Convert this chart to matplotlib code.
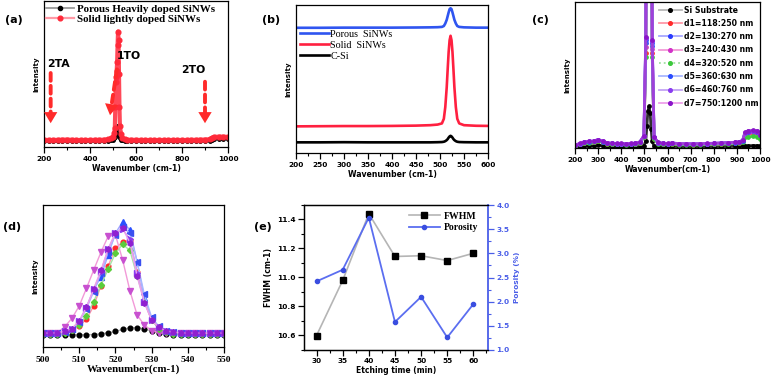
import matplotlib
matplotlib.use('Agg')
import matplotlib.pyplot as plt
from matplotlib.lines import Line2D
from matplotlib.ticker import MultipleLocator, NullLocator

# ---------------- data ----------------
# (a)
x_a = [200, 220, 240, 260, 280, 300, 320, 340, 360, 380, 400, 420, 440, 460, 480,
       490, 500, 505, 508, 510, 512, 514, 516, 518, 520, 522, 524, 526, 528, 530, 535, 540, 550, 560,
       580, 600, 620, 640, 660, 680, 700, 720, 740, 760, 780, 800, 820, 840, 860, 880, 900, 920,
       930, 940, 960, 980, 1000]
porous_heavy_a = [0.038, 0.038, 0.038, 0.039, 0.040, 0.041, 0.039, 0.038, 0.038, 0.038, 0.038, 0.038, 0.038, 0.039, 0.040,
                  0.042, 0.046, 0.055, 0.065, 0.080, 0.095, 0.110, 0.125, 0.135, 0.140, 0.138, 0.125, 0.100, 0.075, 0.058, 0.046, 0.042, 0.040, 0.039,
                  0.038, 0.038, 0.038, 0.038, 0.038, 0.038, 0.038, 0.038, 0.038, 0.038, 0.038, 0.038, 0.038, 0.038, 0.039, 0.039, 0.040, 0.041,
                  0.046, 0.050, 0.051, 0.051, 0.050]
solid_light_a = [0.046, 0.045, 0.045, 0.046, 0.047, 0.048, 0.046, 0.045, 0.045, 0.045, 0.045, 0.046, 0.046, 0.047, 0.050,
                 0.055, 0.065, 0.090, 0.130, 0.270, 0.440, 0.480, 0.520, 0.580, 0.700, 0.790, 0.730, 0.500, 0.270, 0.140, 0.085, 0.060, 0.050, 0.047,
                 0.046, 0.046, 0.045, 0.045, 0.045, 0.045, 0.045, 0.045, 0.045, 0.045, 0.045, 0.045, 0.045, 0.046, 0.046, 0.047, 0.048, 0.050,
                 0.060, 0.066, 0.068, 0.068, 0.066]
labels_a = ["Porous Heavily doped SiNWs", "Solid lightly doped SiNWs"]

# (b)
x_b = [200, 250, 300, 350, 400, 450, 480, 495, 504, 508, 511, 514, 516, 518, 520, 522, 524,
       526, 528, 530, 533, 536, 540, 550, 575, 600]
porous_b = [0.846, 0.846, 0.847, 0.847, 0.847, 0.848, 0.849, 0.850, 0.852, 0.858, 0.875, 0.900, 0.925,
            0.950, 0.972, 0.978, 0.972, 0.950, 0.925, 0.900, 0.875, 0.858, 0.852, 0.849, 0.847, 0.847]
solid_b = [0.180, 0.181, 0.182, 0.182, 0.183, 0.185, 0.188, 0.192, 0.200, 0.231, 0.310, 0.444, 0.566,
           0.682, 0.762, 0.792, 0.762, 0.682, 0.566, 0.444, 0.310, 0.231, 0.200, 0.188, 0.184, 0.183]
csi_b = [0.072, 0.072, 0.073, 0.072, 0.072, 0.072, 0.072, 0.073, 0.074, 0.076, 0.080, 0.087, 0.094,
         0.104, 0.112, 0.116, 0.112, 0.104, 0.094, 0.087, 0.080, 0.076, 0.074, 0.073, 0.072, 0.072]
labels_b = ["Porous  SiNWs", "Solid  SiNWs", "C-Si"]

# (c)
x_c = [200, 220, 240, 260, 280, 300, 320, 340, 360, 380, 400, 420, 440, 460, 480,
       498, 506, 511, 515, 520, 525, 529, 534, 542,
       560, 580, 600, 620,
       650, 680, 710, 740, 770, 800, 830, 860, 890,
       910, 925, 935, 950, 970, 985, 1000]
si_c = [0.008, 0.010, 0.012, 0.013, 0.015, 0.020, 0.015, 0.011, 0.010, 0.009, 0.009, 0.009, 0.009, 0.009, 0.010,
        0.014, 0.050, 0.150, 0.250, 0.285, 0.240, 0.130, 0.045, 0.014,
        0.010, 0.009, 0.009, 0.011,
        0.009, 0.009, 0.009, 0.009, 0.009, 0.009, 0.009, 0.010, 0.011,
        0.012, 0.013, 0.014, 0.016, 0.017, 0.017, 0.015]
d1_c = [0.016, 0.025, 0.034, 0.039, 0.041, 0.050, 0.040, 0.030, 0.027, 0.025, 0.025, 0.024, 0.025, 0.027, 0.034,
        0.075, 0.650, 2.40, 4.80, 5.80, 4.80, 2.30, 0.650, 0.065,
        0.032, 0.027, 0.025, 0.029,
        0.024, 0.024, 0.023, 0.024, 0.025, 0.027, 0.029, 0.031, 0.033,
        0.037, 0.046, 0.092, 0.100, 0.103, 0.100, 0.078]
d2_c = [0.018, 0.028, 0.038, 0.043, 0.045, 0.055, 0.043, 0.033, 0.030, 0.028, 0.028, 0.026, 0.028, 0.030, 0.038,
        0.080, 0.720, 2.60, 5.10, 6.10, 5.00, 2.50, 0.700, 0.070,
        0.035, 0.030, 0.028, 0.032,
        0.027, 0.027, 0.026, 0.027, 0.028, 0.030, 0.032, 0.034, 0.036,
        0.040, 0.050, 0.100, 0.108, 0.112, 0.110, 0.085]
d3_c = [0.017, 0.027, 0.036, 0.041, 0.043, 0.053, 0.041, 0.031, 0.029, 0.027, 0.027, 0.025, 0.027, 0.029, 0.036,
        0.078, 0.690, 2.50, 4.90, 5.90, 4.90, 2.40, 0.680, 0.068,
        0.034, 0.029, 0.027, 0.031,
        0.026, 0.026, 0.025, 0.026, 0.027, 0.029, 0.031, 0.033, 0.035,
        0.039, 0.048, 0.096, 0.104, 0.108, 0.106, 0.082]
d4_c = [0.015, 0.024, 0.032, 0.037, 0.039, 0.048, 0.038, 0.029, 0.026, 0.024, 0.024, 0.023, 0.024, 0.026, 0.033,
        0.072, 0.620, 2.30, 4.60, 5.60, 4.60, 2.20, 0.620, 0.062,
        0.030, 0.026, 0.024, 0.028,
        0.023, 0.023, 0.022, 0.023, 0.024, 0.026, 0.028, 0.030, 0.032,
        0.036, 0.044, 0.072, 0.078, 0.080, 0.078, 0.062]
d5_c = [0.019, 0.029, 0.039, 0.044, 0.046, 0.056, 0.044, 0.034, 0.031, 0.029, 0.029, 0.027, 0.029, 0.031, 0.039,
        0.082, 0.740, 2.65, 5.20, 6.20, 5.10, 2.55, 0.720, 0.072,
        0.036, 0.031, 0.029, 0.033,
        0.028, 0.028, 0.027, 0.028, 0.029, 0.031, 0.033, 0.035, 0.037,
        0.041, 0.051, 0.104, 0.112, 0.116, 0.113, 0.088]
d6_c = [0.019, 0.030, 0.040, 0.045, 0.047, 0.057, 0.045, 0.035, 0.032, 0.030, 0.030, 0.028, 0.030, 0.032, 0.040,
        0.083, 0.750, 2.70, 5.30, 6.30, 5.20, 2.60, 0.730, 0.073,
        0.037, 0.032, 0.030, 0.034,
        0.029, 0.029, 0.028, 0.029, 0.030, 0.032, 0.034, 0.036, 0.038,
        0.042, 0.052, 0.106, 0.115, 0.118, 0.115, 0.090]
d7_c = [0.020, 0.031, 0.041, 0.046, 0.048, 0.058, 0.046, 0.036, 0.033, 0.031, 0.031, 0.029, 0.031, 0.033, 0.041,
        0.085, 0.760, 2.75, 5.40, 6.40, 5.30, 2.65, 0.740, 0.075,
        0.038, 0.033, 0.031, 0.035,
        0.030, 0.030, 0.029, 0.030, 0.031, 0.033, 0.035, 0.037, 0.039,
        0.043, 0.053, 0.108, 0.117, 0.120, 0.117, 0.092]
labels_c = ["Si Substrate", "d1=118:250 nm", "d2=130:270 nm", "d3=240:430 nm", "d4=320:520 nm",
            "d5=360:630 nm", "d6=460:760 nm", "d7=750:1200 nm"]

# (d)
x_d = [500, 502, 504, 506, 508, 510, 512, 514, 516, 518, 520, 522, 524, 526, 528, 530, 532,
       534, 536, 538, 540, 542, 544, 546, 548, 550]
si_d = [0.085, 0.085, 0.085, 0.085, 0.085, 0.085, 0.086, 0.088, 0.093, 0.100, 0.110, 0.124, 0.134,
        0.136, 0.128, 0.112, 0.098, 0.090, 0.087, 0.086, 0.085, 0.085, 0.085, 0.085, 0.085, 0.085]
d1_d = [0.095, 0.095, 0.097, 0.105, 0.120, 0.148, 0.195, 0.289, 0.430, 0.570, 0.695, 0.740, 0.754,
        0.530, 0.320, 0.190, 0.130, 0.108, 0.100, 0.097, 0.096, 0.095, 0.095, 0.095, 0.095, 0.095]
d2_d = [0.098, 0.098, 0.100, 0.110, 0.125, 0.178, 0.284, 0.400, 0.495, 0.650, 0.800, 0.883, 0.824,
        0.601, 0.343, 0.202, 0.143, 0.115, 0.105, 0.100, 0.098, 0.098, 0.098, 0.098, 0.098, 0.098]
d3_d = [0.096, 0.096, 0.100, 0.143, 0.202, 0.289, 0.413, 0.542, 0.667, 0.780, 0.790, 0.613, 0.397,
        0.225, 0.155, 0.115, 0.100, 0.097, 0.096, 0.096, 0.096, 0.096, 0.096, 0.096, 0.096, 0.096]
d4_d = [0.092, 0.092, 0.094, 0.100, 0.120, 0.155, 0.218, 0.320, 0.435, 0.549, 0.660, 0.723, 0.680,
        0.500, 0.320, 0.190, 0.130, 0.105, 0.095, 0.093, 0.092, 0.092, 0.092, 0.092, 0.092, 0.092]
d5_d = [0.098, 0.098, 0.100, 0.108, 0.125, 0.175, 0.270, 0.390, 0.520, 0.670, 0.790, 0.845, 0.800,
        0.600, 0.370, 0.210, 0.145, 0.115, 0.104, 0.100, 0.098, 0.098, 0.098, 0.098, 0.098, 0.098]
d6_d = [0.098, 0.098, 0.100, 0.110, 0.128, 0.180, 0.275, 0.405, 0.530, 0.690, 0.800, 0.830, 0.760,
        0.520, 0.320, 0.190, 0.140, 0.114, 0.104, 0.100, 0.098, 0.098, 0.098, 0.098, 0.098, 0.098]
d7_d = [0.098, 0.098, 0.100, 0.110, 0.130, 0.185, 0.280, 0.410, 0.540, 0.690, 0.805, 0.835, 0.735,
        0.500, 0.310, 0.190, 0.138, 0.114, 0.104, 0.100, 0.098, 0.098, 0.098, 0.098, 0.098, 0.098]

# (e)
etch_time = [30, 35, 40, 45, 50, 55, 60]
fwhm = [10.60, 10.98, 11.44, 11.145, 11.15, 11.117, 11.167]
porosity = [2.42, 2.66, 3.74, 1.58, 2.10, 1.26, 1.95]

# ---------------- figure ----------------
W, H = 772, 383
fig = plt.figure(figsize=(W / 100, H / 100), dpi=100)
SANS = 'DejaVu Sans'
SERIF = 'Liberation Serif'


def rect(l, t, r, b):
    return [l / W, 1 - b / H, (r - l) / W, (b - t) / H]


def spectra_axes(r, xlim, major, minor, tickfont=SANS, ticksize=5.3):
    ax = fig.add_axes(r)
    ax.set_xlim(*xlim)
    ax.set_ylim(0, 1)
    ax.yaxis.set_major_locator(NullLocator())
    ax.xaxis.set_major_locator(MultipleLocator(major))
    ax.xaxis.set_minor_locator(MultipleLocator(minor))
    ax.tick_params(axis='x', which='major', direction='out', length=4, width=0.9, pad=2.5)
    ax.tick_params(axis='x', which='minor', direction='out', length=2.5, width=0.8)
    for s in ax.spines.values():
        s.set_linewidth(0.9)
    for lab in ax.get_xticklabels():
        lab.set_fontfamily(tickfont)
        lab.set_fontweight('bold')
        lab.set_fontsize(ticksize)
    return ax


# ---- (a)
axa = spectra_axes(rect(44, 1, 228, 146.5), (200, 1000), 200, 100)
axa.plot(x_a, porous_heavy_a, color='#555555', lw=1.2, marker='o', ms=2.5,
         mfc='black', mec='black')
axa.plot(x_a, solid_light_a, color='#ff4858', lw=3.0, marker='o', ms=3.4,
         mfc='#ff2a3a', mec='#ff2a3a', solid_capstyle='round')
ha1 = Line2D([], [], color='#9a9a9a', lw=1.3, marker='o', ms=3, mfc='black', mec='black')
ha2 = Line2D([], [], color='#ff9aa6', lw=1.6, marker='o', ms=3.4, mfc='#ff2a3a', mec='#ff2a3a')
axa.set_xlabel('Wavenumber (cm-1)', fontfamily=SANS, fontweight='bold', fontsize=5.6, labelpad=1.5)
axa.set_ylabel('Intensity', fontfamily=SANS, fontweight='bold', fontsize=5, labelpad=3)
axa.legend([ha1, ha2], labels_a, loc='upper left', bbox_to_anchor=(0.01, 0.98), frameon=False,
           prop={'family': SERIF, 'weight': 'bold', 'size': 7.9}, handlelength=2.6, numpoints=1,
           handletextpad=0.25, labelspacing=0.05, borderpad=0, borderaxespad=0)

ARROW_RED = '#ff2a2a'


def dashed_arrow(ax, start, tip):
    # dashed shaft (stops short of the tip) + solid filled head
    ax.annotate('', xy=tip, xytext=start,
                arrowprops=dict(arrowstyle='-', color=ARROW_RED, lw=2.8,
                                linestyle=(0, (2.0, 1.3)), shrinkA=0, shrinkB=6))
    ax.annotate('', xy=tip, xytext=start,
                arrowprops=dict(arrowstyle='-|>,head_length=0.5,head_width=0.3',
                                color=ARROW_RED, lw=0, mutation_scale=16,
                                shrinkA=0, shrinkB=0))


dashed_arrow(axa, (229, 0.505), (229, 0.16))
dashed_arrow(axa, (900, 0.445), (900, 0.16))
dashed_arrow(axa, (517, 0.53), (487, 0.215))
txt_kw = dict(fontfamily=SANS, fontweight='bold', fontsize=7.8, ha='center', va='center')
axa.text(261, 0.57, '2TA', **txt_kw)
axa.text(567, 0.62, '1TO', **txt_kw)
axa.text(849, 0.525, '2TO', **txt_kw)

# ---- (b)
axb = spectra_axes(rect(296, 5, 488, 153), (200, 600), 50, 25)
lb1, = axb.plot(x_b, porous_b, color='#2f55f0', lw=1.9)
lb2, = axb.plot(x_b, solid_b, color='#ff2040', lw=1.9)
lb3, = axb.plot(x_b, csi_b, color='black', lw=1.9)
axb.set_xlabel('Wavenumber (cm-1)', fontfamily=SANS, fontweight='bold', fontsize=5.6, labelpad=1.5)
axb.set_ylabel('Intensity', fontfamily=SANS, fontweight='bold', fontsize=5, labelpad=3)
axb.legend([lb1, lb2, lb3], labels_b, loc='upper left', bbox_to_anchor=(0.02, 0.835), frameon=False,
           prop={'family': SERIF, 'size': 7.3}, handlelength=2.9, handletextpad=0.1,
           labelspacing=0.2, borderpad=0, borderaxespad=0)

# ---- (c)
axc = spectra_axes(rect(575, 2, 760, 148), (200, 1000), 100, 50)
c_series = [si_c, d1_c, d2_c, d3_c, d4_c, d5_c, d6_c, d7_c]
c_line = ['#b8b8b8', '#ff98a8', '#a8a8ff', '#f29ad8', '#9fe09f', '#a9b8ff', '#c4a4f4', '#eea0ea']
c_band = ['#303030', '#ff5a6a', '#6a6aff', '#e060c8', '#60c860', '#6a80ff', '#9a60f0', '#a040d8']
c_mark = ['black', '#ff2a2a', '#2a3cff', '#d232c8', '#3cc83c', '#2a4cff', '#8a3cf0', '#8a14c8']
c_ls = ['-', '-', '-', '-', ':', '-', '-', '-']
hc = []
for ys, lc, bc, mc, ls in zip(c_series, c_line, c_band, c_mark, c_ls):
    axc.plot(x_c, ys, color=bc, lw=2.0, marker='o', ms=2.4, mfc=mc, mec=mc)
    hc.append(Line2D([], [], color=lc, lw=1.3, ls=ls, marker='o', ms=2.6, mfc=mc, mec=mc))
axc.set_xlabel('Wavenumber(cm-1)', fontfamily=SANS, fontweight='bold', fontsize=5.6, labelpad=1.5)
axc.set_ylabel('Intensity', fontfamily=SANS, fontweight='bold', fontsize=5, labelpad=3)
axc.legend(hc, labels_c, loc='upper left', bbox_to_anchor=(0.455, 0.975), frameon=False,
           prop={'family': SANS, 'weight': 'bold', 'size': 5.6}, handlelength=2.9, numpoints=1,
           handletextpad=0.35, labelspacing=0.55, borderpad=0, borderaxespad=0)

# ---- (d)
axd = spectra_axes(rect(43, 205, 224, 347), (500, 550), 10, 5, tickfont=SERIF, ticksize=6.8)
d_series = [si_d, d1_d, d2_d, d3_d, d4_d, d5_d, d6_d, d7_d]
d_line = ['#bbbbbb', '#ff9aa8', '#a0a8ff', '#f29ad8', '#a6e4a6', '#a9b8ff', '#c4a4f4', '#eea0ea']
d_mark = ['black', '#ff2a2a', '#2a50ff', '#c850d0', '#5ccc3c', '#3a50f0', '#8a3cf0', '#9020d0']
d_sym = ['o', 'o', '^', 'v', 'D', '<', '>', 'h']
d_ms = [3.4, 3.4, 3.9, 3.9, 3.1, 3.9, 3.9, 3.9]
for ys, lc, mc, sym, ms in zip(d_series, d_line, d_mark, d_sym, d_ms):
    axd.plot(x_d, ys, color=lc, lw=1.0, marker=sym, ms=ms, mfc=mc, mec=mc)
axd.set_xlabel('Wavenumber(cm-1)', fontfamily=SERIF, fontweight='bold', fontsize=7.8, labelpad=0.5)
axd.set_ylabel('Intensity', fontfamily=SANS, fontweight='bold', fontsize=5, labelpad=3)

# ---- (e)
axe = fig.add_axes(rect(304, 205, 488, 350))
le1, = axe.plot(etch_time, fwhm, color='#b5b5b5', lw=1.2, marker='s', ms=4.6,
                mfc='black', mec='black')
axe.set_xlim(27.6, 62.8)
axe.set_ylim(10.5, 11.5)
axe.xaxis.set_major_locator(MultipleLocator(5))
axe.xaxis.set_minor_locator(MultipleLocator(2.5))
axe.yaxis.set_major_locator(MultipleLocator(0.2))
axe.yaxis.set_minor_locator(MultipleLocator(0.1))
axe.tick_params(which='major', direction='out', length=4, width=0.9, pad=2)
axe.tick_params(which='minor', direction='out', length=2.5, width=0.8)
axe.set_xlabel('Etching time (min)', fontfamily=SANS, fontweight='bold', fontsize=5.5, labelpad=1.5)
axe.set_ylabel('FWHM (cm-1)', fontfamily=SANS, fontweight='bold', fontsize=5.6, labelpad=3)
axe2 = axe.twinx()
blue = '#4a5ee8'
le2, = axe2.plot(etch_time, porosity, color='#5b6ef0', lw=1.3, marker='o', ms=3,
                 mfc='#3a4ee0', mec='#3a4ee0')
axe2.set_ylim(1.0, 4.0)
axe2.yaxis.set_major_locator(MultipleLocator(0.5))
axe2.yaxis.set_minor_locator(MultipleLocator(0.25))
axe2.tick_params(axis='y', which='major', direction='out', length=4, width=0.9, pad=2,
                 colors=blue)
axe2.tick_params(axis='y', which='minor', direction='out', length=2.5, width=0.8, colors=blue)
axe2.spines['right'].set_color(blue)
axe2.spines['right'].set_linewidth(1.3)
axe2.set_ylabel('Porosity (%)', fontfamily=SANS, fontweight='bold', fontsize=5.3, color=blue,
                labelpad=3)
for s in ['left', 'top', 'bottom']:
    axe.spines[s].set_linewidth(0.9)
    axe2.spines[s].set_linewidth(0.9)
axe.spines['right'].set_visible(False)
for lab in axe.get_xticklabels() + axe.get_yticklabels() + axe2.get_yticklabels():
    lab.set_fontfamily(SANS)
    lab.set_fontweight('bold')
    lab.set_fontsize(5.3)
axe2.legend([le1, le2], ['FWHM', 'Porosity'], loc='upper left', bbox_to_anchor=(0.57, 0.955),
            frameon=False, prop={'family': SERIF, 'weight': 'bold', 'size': 7},
            handlelength=3.2, handletextpad=0.4, labelspacing=0.3, borderpad=0, borderaxespad=0)

# ---- panel labels
plab = dict(fontfamily=SANS, fontweight='bold', fontsize=8, ha='left', va='center')
fig.text(5 / W, 1 - 20 / H, '(a)', **plab)
fig.text(262 / W, 1 - 20 / H, '(b)', **plab)
fig.text(532 / W, 1 - 20 / H, '(c)', **plab)
fig.text(3 / W, 1 - 227 / H, '(d)', **plab)
fig.text(254 / W, 1 - 227 / H, '(e)', **plab)

fig.savefig('out.png', dpi=100)
